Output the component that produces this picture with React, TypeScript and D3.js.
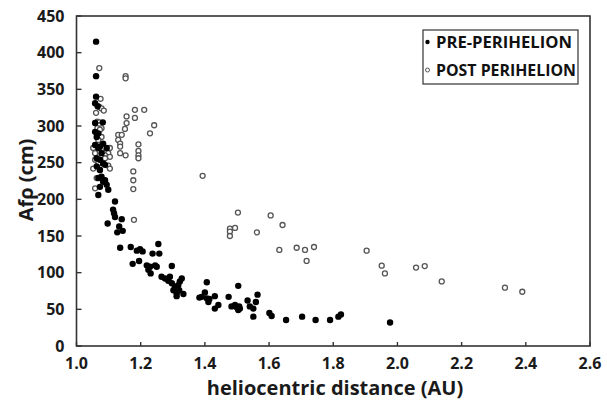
import React from "react";
import * as d3 from "d3";

const xTicks = [1.0, 1.2, 1.4, 1.6, 1.8, 2.0, 2.2, 2.4, 2.6];
const yTicks = [0, 50, 100, 150, 200, 250, 300, 350, 400, 450];

const preX = [
  1.061, 1.061, 1.061, 1.058, 1.066, 1.082, 1.058,
  1.058, 1.068, 1.063, 1.058, 1.073, 1.083, 1.094,
  1.068, 1.078, 1.063, 1.073, 1.083, 1.063, 1.073, 1.089,
  1.068, 1.078, 1.083, 1.089, 1.073, 1.094, 1.099, 1.068,
  1.12, 1.114, 1.117, 1.12, 1.141, 1.097, 1.133, 1.144, 1.127,
  1.136, 1.169, 1.198, 1.255,
  1.188, 1.206, 1.195, 1.175, 1.237, 1.258,
  1.219, 1.229, 1.224, 1.231, 1.245, 1.25, 1.297,
  1.265, 1.276, 1.286, 1.291, 1.297, 1.307, 1.312, 1.32, 1.317, 1.328, 1.322, 1.312, 1.333, 1.302,
  1.406, 1.383, 1.39, 1.4, 1.406, 1.414, 1.411, 1.431, 1.442, 1.431,
  1.474, 1.504, 1.483, 1.494, 1.499, 1.507, 1.504, 1.509,
  1.533, 1.54, 1.551, 1.551, 1.559, 1.564,
  1.601, 1.608, 1.653, 1.703, 1.745, 1.79, 1.816, 1.824, 1.977,
];
const preY = [
  415, 368, 340, 331, 327, 305, 304,
  292, 290, 285, 274, 272, 276, 270,
  270, 263, 256, 254, 249, 245, 240, 247,
  229, 231, 224, 226, 217, 220, 213, 206,
  197, 186, 181, 176, 173, 167, 163, 157, 155,
  134, 135, 132, 139,
  130, 129, 116, 112, 126, 126,
  110, 108, 104, 99, 110, 108, 109,
  94.5, 92, 89, 94.5, 85.5, 81, 72, 76, 83, 92, 88, 68, 71, 76,
  87, 66, 67, 73, 65, 64, 60, 68, 56, 51,
  67, 82, 54, 56, 53, 54, 49, 51,
  62, 54, 51, 40, 60, 70,
  45, 41, 35.5, 40, 35.5, 35.5, 40, 43, 32,
];

const postX = [
  1.071, 1.075, 1.071, 1.078, 1.085, 1.061, 1.065, 1.071, 1.071, 1.065, 1.078,
  1.153, 1.153, 1.182, 1.211, 1.182, 1.156, 1.156, 1.151, 1.242, 1.229,
  1.13, 1.141, 1.13,
  1.136, 1.136, 1.136, 1.153,
  1.193, 1.193, 1.193, 1.193,
  1.177, 1.177, 1.177, 1.179,
  1.073, 1.078, 1.068, 1.052, 1.068, 1.083, 1.094, 1.104, 1.099, 1.089, 1.104,
  1.058, 1.058, 1.068, 1.052, 1.073, 1.089, 1.063, 1.058, 1.099, 1.104,
  1.393, 1.503, 1.478, 1.494, 1.478, 1.478, 1.605, 1.642, 1.562, 1.632,
  1.686, 1.712, 1.74, 1.717, 1.904, 1.951, 1.961, 2.058, 2.085, 2.138, 2.335, 2.389,
];
const postY = [
  379, 337, 326, 324, 321, 318, 306, 305, 301, 297, 297,
  368, 365, 322, 322, 311, 313, 304, 296, 301, 290,
  288, 288, 281,
  276, 272, 263, 260,
  275, 266, 260, 256,
  238, 226, 214, 172,
  295, 285, 281, 270, 270, 270, 267, 270, 263, 260, 258,
  263, 254, 249, 242, 240, 256, 229, 215, 246, 242,
  232, 182, 160, 161, 156, 150, 178, 165, 155, 131,
  134, 131, 135, 116, 130, 109.5, 99, 107, 109, 88, 79.5, 74,
];

const legendLabels = ["PRE-PERIHELION", "POST PERIHELION"];
const xTitle = "heliocentric distance (AU)";
const yTitle = "Afρ (cm)";

export default function App() {
  const W = 607, H = 400;
  const left = 76.5, right = 590, top = 16, bottom = 346;
  const x = d3.scaleLinear().domain([1.0, 2.6]).range([left, right]);
  const y = d3.scaleLinear().domain([0, 450]).range([bottom, top]);
  const font = "'Open Sans', sans-serif";
  const pre = preX.map((v, i) => [v, preY[i]]);
  const post = postX.map((v, i) => [v, postY[i]]);

  return (
    <svg width={W} height={H} style={{ position: "absolute", left: 0, top: 0, background: "#fff" }} fontFamily={font}>
      <rect x={0} y={0} width={W} height={H} fill="#fff" />
      {/* frame */}
      <rect x={left} y={top} width={right - left} height={bottom - top} fill="none" stroke="#333" strokeWidth={1.6} />
      {/* x ticks */}
      {xTicks.map((t) => (
        <g key={"x" + t}>
          <line x1={x(t)} x2={x(t)} y1={bottom} y2={bottom - 4} stroke="#333" strokeWidth={1.4} />
          <text x={x(t)} y={bottom + 23} textAnchor="middle" fontSize={16} fontWeight={700} fill="#1a1a1a">
            {t.toFixed(1)}
          </text>
        </g>
      ))}
      {yTicks.map((t) => (
        <g key={"y" + t}>
          <line x1={left} x2={left + 5} y1={y(t)} y2={y(t)} stroke="#333" strokeWidth={1.4} />
          <text x={left - 12} y={y(t) + 5.5} textAnchor="end" fontSize={16} fontWeight={700} fill="#1a1a1a">
            {t}
          </text>
        </g>
      ))}
      {/* points */}
      {post.map((d, i) => (
        <circle key={"o" + i} cx={x(d[0])} cy={y(d[1])} r={2.5} fill="#fff" stroke="#555" strokeWidth={1.3} />
      ))}
      {pre.map((d, i) => (
        <circle key={"f" + i} cx={x(d[0])} cy={y(d[1])} r={3.2} fill="#000" />
      ))}
      {/* legend */}
      <rect x={423} y={30} width={155} height={54} fill="#fff" stroke="#333" strokeWidth={1.2} />
      <circle cx={427.5} cy={42} r={2.2} fill="#000" />
      <circle cx={427.5} cy={70} r={2} fill="#fff" stroke="#555" strokeWidth={1} />
      <text x={436} y={48} fontSize={16.5} fontWeight={700} fill="#111" textLength={136} lengthAdjust="spacingAndGlyphs">{legendLabels[0]}</text>
      <text x={436} y={76} fontSize={16.5} fontWeight={700} fill="#111" textLength={140} lengthAdjust="spacingAndGlyphs">{legendLabels[1]}</text>
      {/* titles */}
      <text x={335} y={395} textAnchor="middle" fontSize={20} fontWeight={700} fill="#1a1a1a">{xTitle}</text>
      <text transform={`translate(33,180) rotate(-90)`} textAnchor="middle" fontSize={20} fontWeight={700} fill="#1a1a1a">{yTitle}</text>
    </svg>
  );
}
